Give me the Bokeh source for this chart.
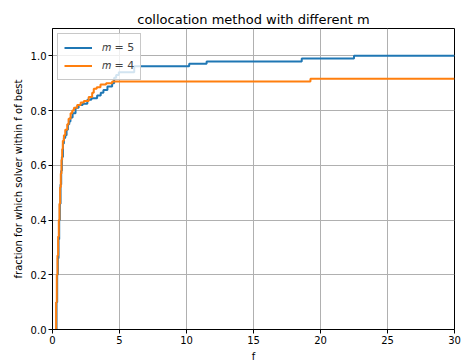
from bokeh.plotting import figure
from bokeh.models import FixedTicker, PrintfTickFormatter, Range1d, Legend, LegendItem
from bokeh.embed import file_html
from bokeh.resources import INLINE

# m = 5 (blue) step profile
m5_x = [0.25, 0.30, 0.35, 0.40, 0.45, 0.50, 0.55, 0.60, 0.65, 0.70, 0.78, 0.85, 0.95, 1.05,
        1.15, 1.25, 1.34, 1.5, 1.72, 1.95, 2.25, 2.6, 2.9, 3.33, 3.6, 3.8, 4.1, 4.45, 4.6,
        4.75, 4.95, 6.1, 10.2, 11.5, 18.6, 22.5, 30.0]
m5_y = [0.0, 0.10, 0.20, 0.26, 0.33, 0.40, 0.46, 0.53, 0.58, 0.63, 0.68, 0.70, 0.71, 0.73,
        0.75, 0.76, 0.775, 0.79, 0.81, 0.82, 0.825, 0.84, 0.845, 0.855, 0.865, 0.875, 0.888,
        0.90, 0.92, 0.93, 0.94, 0.962, 0.971, 0.979, 0.99, 1.0, 1.0]

# m = 4 (orange) step profile
m4_x = [0.22, 0.27, 0.32, 0.37, 0.42, 0.47, 0.52, 0.57, 0.62, 0.67, 0.72, 0.77, 0.85, 0.95,
        1.1, 1.2, 1.35, 1.47, 1.6, 1.84, 2.1, 2.34, 2.7, 2.96, 3.08, 3.3, 3.58, 4.0, 4.45,
        19.25, 30.0]
m4_y = [0.0, 0.10, 0.20, 0.27, 0.34, 0.40, 0.46, 0.52, 0.57, 0.62, 0.66, 0.69, 0.71, 0.73,
        0.75, 0.77, 0.79, 0.80, 0.81, 0.82, 0.83, 0.835, 0.85, 0.865, 0.88, 0.885, 0.895,
        0.90, 0.906, 0.916, 0.916]

x_ticks = [0, 5, 10, 15, 20, 25, 30]
y_ticks = [0.0, 0.2, 0.4, 0.6, 0.8, 1.0]

FONT = "DejaVu Sans"

p = figure(frame_width=402, frame_height=301, output_backend="svg", toolbar_location=None,
           x_range=Range1d(0, 30), y_range=Range1d(0, 1.1),
           title="collocation method with different m")
p.min_border_left = 52
p.min_border_right = 8
p.min_border_top = 28
p.min_border_bottom = 32

p.title.align = "center"
p.title.text_font = FONT
p.title.text_font_size = "13px"
p.title.text_font_style = "normal"
p.title.text_color = "black"
p.title.standoff = 4

p.background_fill_color = "white"
p.border_fill_color = "white"
p.outline_line_color = "black"
p.outline_line_width = 1

for ax in (p.xaxis[0], p.yaxis[0]):
    ax.major_label_text_font = FONT
    ax.major_label_text_font_size = "10px"
    ax.major_label_text_color = "black"
    ax.axis_label_text_font = FONT
    ax.axis_label_text_font_size = "10px"
    ax.axis_label_text_font_style = "normal"
    ax.axis_label_text_color = "black"
    ax.minor_tick_line_color = None
    ax.major_tick_out = 4
    ax.major_tick_in = 0
    ax.axis_line_color = "black"
    ax.major_tick_line_color = "black"
    ax.axis_label_standoff = 4
    ax.major_label_standoff = 2

p.xaxis.ticker = FixedTicker(ticks=x_ticks)
p.yaxis.ticker = FixedTicker(ticks=y_ticks)
p.yaxis.formatter = PrintfTickFormatter(format="%.1f")
p.xaxis.axis_label = "f"
p.yaxis.axis_label = "fraction for which solver within f of best"

p.grid.grid_line_color = "#b0b0b0"
p.grid.grid_line_width = 1

r5 = p.step(m5_x, m5_y, mode="after", line_color="#1f77b4", line_width=2)
r4 = p.step(m4_x, m4_y, mode="after", line_color="#ff7f0e", line_width=2)

legend = Legend(items=[LegendItem(label="\U0001D45A = 5", renderers=[r5]),
                       LegendItem(label="\U0001D45A = 4", renderers=[r4])],
                location="top_left")
legend.margin = 5
legend.padding = 6
legend.spacing = 3
legend.label_standoff = 10
legend.label_text_font = FONT
legend.label_text_font_size = "11px"
legend.label_height = 15
legend.glyph_height = 15
legend.glyph_width = 28
legend.border_line_color = "#c8c8c8"
legend.border_line_alpha = 1
legend.background_fill_alpha = 0.8
p.add_layout(legend)

open("out.html", "w").write(file_html(p, INLINE))
